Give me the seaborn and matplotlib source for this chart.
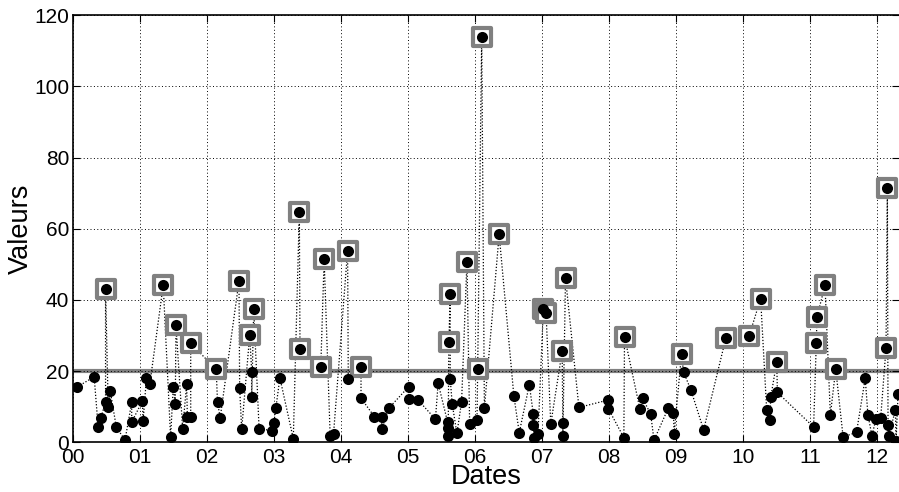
import matplotlib
matplotlib.use("Agg")
import matplotlib.pyplot as plt
import seaborn as sns
import pandas as pd
import numpy as np

# Time (years since 2000) and values
dates = [0.07, 0.32, 0.38, 0.42, 0.49, 0.49, 0.53, 0.56, 0.65, 0.78, 0.88, 0.88,
         1.04, 1.05, 1.10, 1.15, 1.35, 1.46, 1.50, 1.53, 1.54, 1.64, 1.70, 1.71, 1.76, 1.76,
         2.14, 2.16, 2.20, 2.48, 2.49, 2.52, 2.64, 2.67, 2.67, 2.70, 2.78, 2.97,
         3.00, 3.03, 3.09, 3.29, 3.38, 3.39, 3.70, 3.75, 3.84, 3.89,
         4.10, 4.11, 4.30, 4.30, 4.50, 4.61, 4.61, 4.71,
         5.01, 5.01, 5.15, 5.41, 5.45, 5.59, 5.59, 5.60, 5.61, 5.63, 5.63, 5.66, 5.73, 5.80, 5.88, 5.92,
         6.03, 6.04, 6.10, 6.14, 6.36, 6.58, 6.66, 6.81, 6.87, 6.87, 6.88, 6.94,
         7.02, 7.06, 7.13, 7.30, 7.31, 7.31, 7.35, 7.55, 7.99, 7.99,
         8.22, 8.23, 8.46, 8.50, 8.62, 8.67, 8.88, 8.96, 8.97,
         9.08, 9.11, 9.22, 9.41, 9.74,
         10.09, 10.26, 10.35, 10.40, 10.41, 10.50, 10.51,
         11.05, 11.09, 11.10, 11.22, 11.30, 11.38, 11.49, 11.69, 11.82, 11.86, 11.92, 11.98,
         12.05, 12.13, 12.15, 12.16, 12.17, 12.27, 12.28, 12.31]
values = [15.6, 18.4, 4.2, 6.8, 11.4, 43.0, 9.8, 14.4, 4.3, 0.6, 11.2, 5.7,
          11.6, 5.9, 18.2, 16.3, 44.2, 1.5, 15.6, 10.7, 33.0, 3.8, 16.4, 7.0, 7.2, 27.8,
          20.5, 11.2, 6.9, 45.3, 15.3, 3.6, 30.1, 19.8, 12.8, 37.4, 3.8, 3.3,
          5.5, 9.6, 18.1, 1.0, 64.6, 26.1, 21.2, 51.4, 1.8, 2.3,
          53.9, 17.7, 21.1, 12.4, 7.2, 7.0, 3.7, 9.5,
          15.6, 12.1, 11.9, 6.5, 16.6, 5.8, 3.9, 1.9, 28.1, 41.6, 17.9, 10.8, 2.5, 11.4, 50.8, 5.1,
          6.3, 20.6, 114.0, 9.5, 58.4, 13.0, 2.7, 16.2, 7.9, 4.9, 1.2, 2.3,
          37.6, 36.3, 5.1, 25.6, 5.4, 1.8, 46.2, 9.8, 11.9, 9.4,
          1.3, 29.7, 9.3, 12.4, 7.9, 0.6, 9.5, 8.1, 2.3,
          24.8, 19.8, 14.7, 3.5, 29.2,
          30.0, 40.4, 9.2, 6.3, 12.6, 22.6, 14.0,
          4.3, 27.8, 35.2, 44.1, 7.7, 20.6, 1.5, 2.8, 18.0, 7.7, 1.9, 6.5,
          6.8, 26.4, 71.5, 4.8, 1.7, 9.1, 0.5, 13.7]
threshold = 20
x_tick_labels = ["00", "01", "02", "03", "04", "05", "06", "07", "08", "09", "10", "11", "12"]
y_ticks = [0, 20, 40, 60, 80, 100, 120]

df = pd.DataFrame({"Dates": dates, "Valeurs": values})
high = df[df["Valeurs"] > threshold]

plt.rcParams["font.family"] = ["Liberation Sans", "DejaVu Sans"]

fig = plt.figure(figsize=(8.99, 4.92), dpi=100)
ax = fig.add_axes([72.7 / 899, (492 - 442.3) / 492, 1 - 72.7 / 899, (442.3 - 15.3) / 492])

ax.axhline(threshold, color="#808080", lw=3, zorder=1)

sns.lineplot(data=df, x="Dates", y="Valeurs", ax=ax, estimator=None, sort=False,
             color="black", linestyle=(0, (1, 1.5)), lw=0.9, zorder=2)
sns.scatterplot(data=high, x="Dates", y="Valeurs", ax=ax, marker="s", s=13.5 ** 2,
                facecolor="white", edgecolor="#808080", linewidth=3, zorder=3)
sns.scatterplot(data=df, x="Dates", y="Valeurs", ax=ax, marker="o", s=8 ** 2,
                color="black", linewidth=0, zorder=4)

ax.set_xlim(0, (899 - 72.7) / 67.05)
ax.set_ylim(0, 120)
ax.set_xticks(range(len(x_tick_labels)))
ax.set_xticklabels(x_tick_labels)
ax.set_yticks(y_ticks)
ax.grid(True, color="black", linestyle=(0, (1, 2.5)), lw=0.7)
ax.set_axisbelow("line")
ax.tick_params(direction="in", top=True, right=True, length=5, labelsize=15)
ax.tick_params(axis="x", pad=4)
ax.tick_params(axis="y", pad=2.5)
for s in ax.spines.values():
    s.set_color("black")
    s.set_linewidth(1.2)
ax.spines["right"].set_visible(False)
ax.set_xlabel("Dates", fontsize=19.5, labelpad=-2)
ax.set_ylabel("Valeurs", fontsize=19.5, labelpad=0.5)

fig.savefig("out.png", dpi=100)
